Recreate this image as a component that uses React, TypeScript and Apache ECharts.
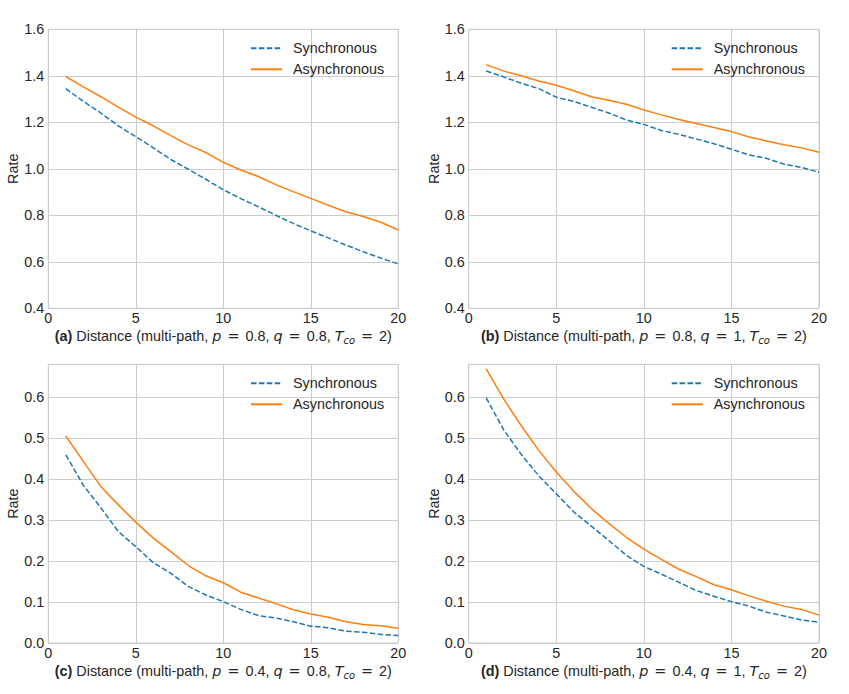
import React, { useEffect, useRef } from "react";
import * as echarts from "echarts";

const distance = [1, 2, 3, 4, 5, 6, 7, 8, 9, 10, 11, 12, 13, 14, 15, 16, 17, 18, 19, 20];

const syncA = [1.345, 1.29, 1.24, 1.185, 1.138, 1.09, 1.04, 0.998, 0.955, 0.91, 0.872, 0.837, 0.8, 0.765, 0.733, 0.703, 0.672, 0.643, 0.616, 0.591];
const asyncA = [1.397, 1.352, 1.31, 1.265, 1.222, 1.185, 1.143, 1.103, 1.07, 1.028, 0.995, 0.967, 0.932, 0.902, 0.873, 0.843, 0.815, 0.795, 0.77, 0.737];
const syncB = [1.421, 1.395, 1.368, 1.345, 1.308, 1.29, 1.265, 1.24, 1.21, 1.191, 1.165, 1.148, 1.128, 1.108, 1.084, 1.06, 1.045, 1.02, 1.006, 0.985];
const asyncB = [1.448, 1.42, 1.4, 1.378, 1.359, 1.336, 1.31, 1.295, 1.278, 1.253, 1.232, 1.212, 1.195, 1.178, 1.16, 1.137, 1.12, 1.103, 1.09, 1.071];
const syncC = [0.459, 0.385, 0.33, 0.272, 0.235, 0.196, 0.17, 0.138, 0.117, 0.101, 0.082, 0.067, 0.061, 0.052, 0.041, 0.037, 0.029, 0.026, 0.021, 0.018];
const asyncC = [0.505, 0.443, 0.382, 0.337, 0.295, 0.256, 0.223, 0.189, 0.164, 0.147, 0.124, 0.11, 0.096, 0.081, 0.071, 0.063, 0.052, 0.045, 0.042, 0.036];
const syncD = [0.598, 0.52, 0.46, 0.408, 0.364, 0.32, 0.285, 0.25, 0.214, 0.187, 0.168, 0.148, 0.128, 0.114, 0.101, 0.09, 0.075, 0.066, 0.056, 0.051];
const asyncD = [0.669, 0.595, 0.53, 0.47, 0.417, 0.37, 0.328, 0.292, 0.258, 0.229, 0.204, 0.18, 0.162, 0.142, 0.13, 0.115, 0.102, 0.09, 0.082, 0.068];

const seriesNames = ["Synchronous", "Asynchronous"];
const panelLetters = ["a", "b", "c", "d"];
const pValues = ["0.8", "0.8", "0.4", "0.4"];
const qValues = ["0.8", "1", "0.8", "1"];
const xRange = [0, 20, 5];
const yRangeTop = [0.4, 1.6, 0.2];
const yRangeBottom = [0, 0.68, 0.1];

const FONT = "Liberation Sans";
const MATH = "DejaVu Sans";
const FS = 14.4;
const TXT = "#262626";
const GRID = "#cccccc";
const BLUE = "#1f77b4";
const ORANGE = "#ff7f0e";

export default function App() {
  const ref = useRef<HTMLDivElement>(null);
  useEffect(() => {
    if (!ref.current) return;
    const chart = echarts.init(ref.current, null, { renderer: "svg" });

    const grids = [
      { left: 48.3, top: 29.3, width: 350, height: 279 },
      { left: 468.7, top: 29.3, width: 350.3, height: 279 },
      { left: 48.3, top: 364.3, width: 350, height: 278.7 },
      { left: 468.7, top: 364.3, width: 350.3, height: 278.7 },
    ];
    const legendPos = [
      { left: 250, top: 41.3 },
      { left: 670.7, top: 41.3 },
      { left: 250, top: 376.3 },
      { left: 670.7, top: 376.3 },
    ];
    const data = [
      [syncA, asyncA],
      [syncB, asyncB],
      [syncC, asyncC],
      [syncD, asyncD],
    ];

    const xAxis = grids.map((_, i) => ({
      type: "value",
      gridIndex: i,
      min: xRange[0],
      max: xRange[1],
      interval: xRange[2],
      axisLine: { show: false },
      axisTick: { show: false },
      axisLabel: { color: TXT, fontFamily: FONT, fontSize: FS, margin: 3 },
      splitLine: { show: true, lineStyle: { color: GRID, width: 1 } },
      name:
        `{b|(${panelLetters[i]})} Distance (multi-path, {i|p} {m|=} ${pValues[i]}, {i|q} {m|=} ${qValues[i]}, {i|T}{s|co} {m|=} 2)`,
      nameLocation: "middle",
      nameGap: 19,
      nameTextStyle: {
        color: TXT,
        fontFamily: FONT,
        fontSize: FS,
        lineHeight: 18,
        rich: {
          b: { fontWeight: "bold", fontSize: FS, fontFamily: FONT, color: TXT, lineHeight: 18 },
          i: { fontStyle: "italic", fontSize: FS, fontFamily: MATH, color: TXT, lineHeight: 18 },
          m: { fontSize: FS, fontFamily: MATH, color: TXT, lineHeight: 18, padding: [0, 2, 0, 2] },
          s: {
            fontStyle: "italic",
            fontSize: 10,
            fontFamily: MATH,
            color: TXT,
            lineHeight: 10,
            verticalAlign: "bottom",
          },
        },
      },
    }));

    const yAxis = grids.map((_, i) => {
      const r = i < 2 ? yRangeTop : yRangeBottom;
      return {
        type: "value",
        gridIndex: i,
        min: r[0],
        max: r[1],
        interval: r[2],
        axisLine: { show: false },
        axisTick: { show: false },
        axisLabel: {
          color: TXT,
          fontFamily: FONT,
          fontSize: FS,
          margin: 4,
          showMaxLabel: i < 2,
          formatter: (v: number) => v.toFixed(1),
        },
        splitLine: { show: true, lineStyle: { color: GRID, width: 1 } },
        name: "Rate",
        nameLocation: "middle",
        nameGap: 27,
        nameTextStyle: { color: TXT, fontFamily: FONT, fontSize: FS },
      };
    });

    const series: any[] = [];
    data.forEach((pair, i) => {
      series.push({
        type: "line",
        name: seriesNames[0],
        xAxisIndex: i,
        yAxisIndex: i,
        symbol: "none",
        data: distance.map((d, k) => [d, pair[0][k]]),
        lineStyle: { color: BLUE, width: 1.5, type: [5.5, 2.4] },
        itemStyle: { color: BLUE },
      });
      series.push({
        type: "line",
        name: seriesNames[1],
        xAxisIndex: i,
        yAxisIndex: i,
        symbol: "none",
        data: distance.map((d, k) => [d, pair[1][k]]),
        lineStyle: { color: ORANGE, width: 1.5 },
        itemStyle: { color: ORANGE },
      });
    });

    const legend = legendPos.map((p) => ({
      left: p.left,
      top: p.top,
      orient: "vertical",
      itemWidth: 31,
      itemHeight: 14,
      itemGap: 7,
      padding: 0,
      data: seriesNames,
      selectedMode: false,
      itemStyle: { opacity: 0 },
      textStyle: { color: TXT, fontFamily: FONT, fontSize: FS, padding: [0, 0, 0, 6] },
    }));

    chart.setOption({
      animation: false,
      backgroundColor: "#ffffff",
      grid: grids.map((g) => ({ ...g, show: true, borderColor: GRID, borderWidth: 1, backgroundColor: "#ffffff" })),
      xAxis,
      yAxis,
      legend,
      series,
    });
    return () => chart.dispose();
  }, []);
  return <div ref={ref} style={{ position: "fixed", left: 0, top: 0, width: 849, height: 694 }} />;
}
